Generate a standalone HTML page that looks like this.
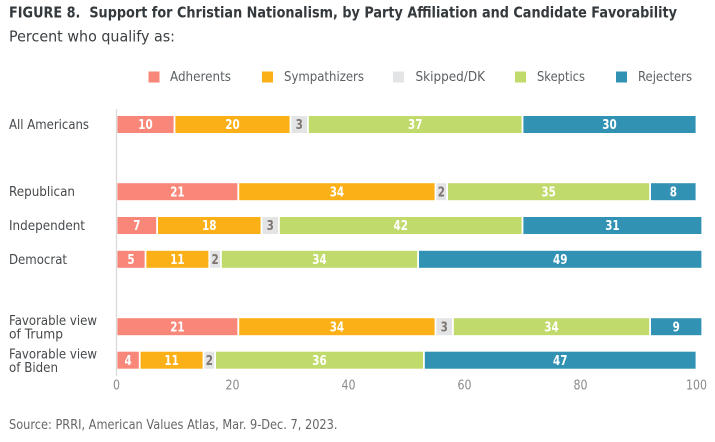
<!DOCTYPE html>
<html>
<head>
<meta charset="utf-8">
<title>Support for Christian Nationalism</title>
<style>
html,body{margin:0;padding:0;background:#fff;width:715px;height:442px;overflow:hidden}
svg{display:block}
text{font-family:"DejaVu Sans","Liberation Sans",sans-serif}
</style>
</head>
<body>
<svg id="chart" width="715" height="442" viewBox="0 0 715 442" xmlns="http://www.w3.org/2000/svg">
<rect width="715" height="442" fill="#fff"/>
<text x="9" y="17.5" font-size="15" font-weight="700" fill="#33393d" textLength="668" lengthAdjust="spacingAndGlyphs">FIGURE 8.&#160; Support for Christian Nationalism, by Party Affiliation and Candidate Favorability</text>
<text x="9" y="41.5" font-size="15.5" fill="#3a3f42" textLength="166" lengthAdjust="spacingAndGlyphs">Percent who qualify as:</text>
<text x="9" y="429" font-size="13.5" fill="#666" textLength="328.5" lengthAdjust="spacingAndGlyphs">Source: PRRI, American Values Atlas, Mar. 9-Dec. 7, 2023.</text>
<g id="legend"></g>
<g id="bars"></g>
<g id="cats"></g>
<g id="ticks"></g>
<line x1="116.5" x2="116.5" y1="109" y2="376" stroke="#dcdcdc" stroke-width="1.4"/>
</svg>
<script>
const categories = ["All Americans","Republican","Independent","Democrat","Favorable view of Trump","Favorable view of Biden"];
const seriesNames = ["Adherents","Sympathizers","Skipped/DK","Skeptics","Rejecters"];
const adherents = [10,21,7,5,21,4];
const sympathizers = [20,34,18,11,34,11];
const skipped = [3,2,3,2,3,2];
const skeptics = [37,35,42,34,34,36];
const rejecters = [30,8,31,49,9,47];
const tickValues = [0,20,40,60,80,100];

const NS = "http://www.w3.org/2000/svg";
const seriesValues = [adherents,sympathizers,skipped,skeptics,rejecters];
const colors = ["#f8877a","#fbb017","#e3e4e6","#c0da6c","#3192b3"];
const labelColors = ["#fff","#fff","#7f7570","#fff","#fff"];
const rowCenters = [124.5,191.7,225.5,259.3,326.7,360.2];
const legendSwatchX = [148.5,262,393,515,616];
const legendTextX = [170,284,415.5,537,638];
const legendTextW = [61,80,69.5,48,54];
const catLineWidths = {"All Americans":80,"Republican":66,"Independent":76,"Democrat":58,"Favorable view":88,"of Trump":54,"of Biden":49};

function xScale(v){ return 116.5 + v * 5.8; }
function make(tag, attrs, parent){
  const el = document.createElementNS(NS, tag);
  for (const k in attrs) el.setAttribute(k, attrs[k]);
  parent.appendChild(el);
  return el;
}
function slug(s){ return s.toLowerCase().replace(/[^a-z0-9]+/g,'-').replace(/-$/,''); }

const legendG = document.getElementById('legend');
seriesNames.forEach((name,i)=>{
  const sw = make('rect',{x:legendSwatchX[i],y:71.5,width:11,height:11,fill:colors[i]},legendG);
  
  
  const t = make('text',{x:legendTextX[i],y:81,'font-size':13.5,fill:'#5a5f62',textLength:legendTextW[i],lengthAdjust:'spacingAndGlyphs'},legendG);
  t.textContent = name;
  
  
});

const barsG = document.getElementById('bars');
const barH = 17;
categories.forEach((cat,r)=>{
  let cum = 0;
  const cy = rowCenters[r];
  seriesValues.forEach((vals,s)=>{
    const v = vals[r];
    const x0 = xScale(cum), x1 = xScale(cum + v);
    const rect = make('rect',{x:x0+0.9,y:cy-barH/2,width:Math.max(0,x1-x0-1.8),height:barH,fill:colors[s]},barsG);
    
    
    const lab = make('text',{x:(x0+x1)/2,y:cy+4.7,'font-size':13,'font-weight':700,'text-anchor':'middle',fill:labelColors[s],textLength:String(v).length*7.2,lengthAdjust:'spacingAndGlyphs'},barsG);
    lab.textContent = v;
    
    
    cum += v;
  });
});

const catsG = document.getElementById('cats');
categories.forEach((cat,r)=>{
  const cy = rowCenters[r];
  const m = cat.match(/^(Favorable view) (of .*)$/);
  const lines = m ? [m[1],m[2]] : [cat];
  lines.forEach((ln,i)=>{
    const y = lines.length === 2 ? cy - 1.7 + i*13.4 : cy + 4.5;
    const t = make('text',{x:9,y:y,'font-size':13.5,fill:'#45494c',textLength:catLineWidths[ln],lengthAdjust:'spacingAndGlyphs'},catsG);
    t.textContent = ln;
    
    
  });
});

const ticksG = document.getElementById('ticks');
tickValues.forEach(v=>{
  const t = make('text',{x:xScale(v),y:389.5,'font-size':13,'text-anchor':'middle',fill:'#8a8a8a',textLength:String(v).length*7,lengthAdjust:'spacingAndGlyphs'},ticksG);
  t.textContent = v;
  
  
});
</script>
</body>
</html>
